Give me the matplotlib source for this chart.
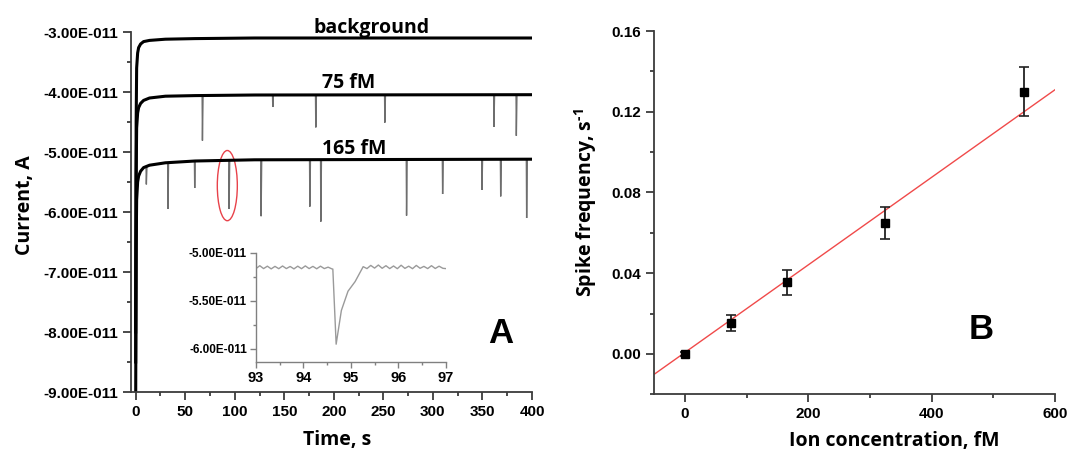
import numpy as np
import matplotlib
matplotlib.use("Agg")
import matplotlib.pyplot as plt
from matplotlib.ticker import FuncFormatter, FixedLocator
from matplotlib.patches import Ellipse

# ---------------- data (panel A) ----------------
E = 1e-11
rise_t = [0, 0.5, 1, 2, 3, 5, 8, 14, 30, 60, 120, 400]
bg_i = [-8.0, -4.5, -3.6, -3.35, -3.26, -3.2, -3.16, -3.14, -3.12, -3.11, -3.10, -3.10]
f75_i = [-8.5, -5.4, -4.6, -4.35, -4.26, -4.19, -4.14, -4.10, -4.07, -4.06, -4.05, -4.045]
f165_i = [-9.3, -6.6, -5.8, -5.5, -5.4, -5.32, -5.26, -5.22, -5.18, -5.15, -5.13, -5.12]

spk75_t = [67.4, 138.4, 181.8, 251.5, 361.6, 384.2]
spk75_i = [-4.81, -4.25, -4.59, -4.51, -4.58, -4.73]
spk165_t = [10.8, 32.6, 59.6, 94.3, 126.6, 175.8, 186.9, 273.4, 309.8, 349.5, 368.4, 394.6]
spk165_i = [-5.54, -5.95, -5.60, -5.95, -6.07, -5.91, -6.16, -6.06, -5.70, -5.63, -5.74, -6.10]

trace_labels = ["background", "75 fM", "165 fM"]

xA_major = [0, 50, 100, 150, 200, 250, 300, 350, 400]
xA_minor = [25, 75, 125, 175, 225, 275, 325, 375]
yA_major = [-9, -8, -7, -6, -5, -4, -3]
yA_minor = [-8.5, -7.5, -6.5, -5.5, -4.5, -3.5]

# inset (zoom on the spike near 94.6 s)
ins_t = [93.00, 93.08, 93.16, 93.24, 93.32, 93.40, 93.48, 93.56, 93.64, 93.72,
         93.80, 93.88, 93.96, 94.04, 94.12, 94.20, 94.28, 94.36, 94.44, 94.52,
         94.60, 94.62, 94.69, 94.80, 94.94, 95.09, 95.26, 95.34, 95.42, 95.50,
         95.58, 95.66, 95.74, 95.82, 95.90, 95.98, 96.06, 96.14, 96.22, 96.30,
         96.38, 96.46, 96.54, 96.62, 96.70, 96.78, 96.86, 96.94, 97.00]
ins_i = [-5.165, -5.135, -5.165, -5.140, -5.168, -5.142, -5.166, -5.138, -5.165, -5.143,
         -5.168, -5.140, -5.166, -5.137, -5.165, -5.142, -5.167, -5.140, -5.165, -5.150,
         -5.168, -5.170, -5.950, -5.600, -5.400, -5.300, -5.145, -5.165, -5.132, -5.160,
         -5.128, -5.162, -5.135, -5.165, -5.138, -5.166, -5.130, -5.163, -5.140, -5.166,
         -5.132, -5.162, -5.142, -5.165, -5.135, -5.164, -5.140, -5.162, -5.165]
xI_major = [93, 94, 95, 96, 97]
xI_minor = [93.5, 94.5, 95.5, 96.5]
yI_major = [-6.0, -5.5, -5.0]
yI_minor = [-5.75, -5.25]

# ---------------- data (panel B) ----------------
conc = [0, 75, 165, 325, 550]
freq = [0.000, 0.0153, 0.0354, 0.065, 0.130]
freq_err = [0.001, 0.0041, 0.006, 0.0079, 0.012]
fit_slope = 2.17e-4
fit_intercept = 0.0007
fit_x = [-50, 600]
xB_major = [0, 200, 400, 600]
xB_minor = [100, 300, 500]
yB_major = [0.00, 0.04, 0.08, 0.12, 0.16]
yB_minor = [-0.02, 0.02, 0.06, 0.10, 0.14]

# ---------------- styling ----------------
TICKFONT = "Liberation Sans"
LABELFONT = "Open Sans"
SPINE = "#3c3c3c"
plt.rcParams["mathtext.fontset"] = "custom"
plt.rcParams["mathtext.rm"] = "Open Sans:bold"
plt.rcParams["mathtext.bf"] = "Open Sans:bold"

fig = plt.figure(figsize=(10.69, 4.55), dpi=100)

def style_axes(ax, lw=1.3, color=SPINE, major=5.5, minor=3.0, pad=4.0):
    for s in ("top", "right"):
        ax.spines[s].set_visible(False)
    for s in ("left", "bottom"):
        ax.spines[s].set_linewidth(lw)
        ax.spines[s].set_color(color)
    ax.tick_params(which="both", direction="out", color=color, width=lw)
    ax.tick_params(which="major", length=major, pad=pad)
    ax.tick_params(which="minor", length=minor)

def build_trace(t, i, st, si):
    tt = list(t)
    ii = list(i)
    for ts, d in zip(st, si):
        b = float(np.interp(ts, t, i))
        tt += [ts - 0.3, ts, ts + 0.6]
        ii += [b, d, b]
    order = np.argsort(tt, kind="stable")
    return np.array(tt)[order], np.array(ii)[order]

def sci_fmt(v, pos):
    m, e = f"{v:.2E}".split("E")
    return f"{m}E{int(e):+04d}"

def bold_ticks(ax, size, xsize=None):
    for lab in ax.get_yticklabels():
        lab.set_fontfamily(TICKFONT)
        lab.set_fontweight("bold")
        lab.set_fontsize(size)
    for lab in ax.get_xticklabels():
        lab.set_fontfamily(TICKFONT)
        lab.set_fontweight("bold")
        lab.set_fontsize(xsize or size)

# ---------------- panel A ----------------
axA = fig.add_axes([131 / 1069, 1 - 392 / 455, 401 / 1069, 360 / 455])
style_axes(axA)
axA.set_xlim(-4.7, 400)
axA.set_ylim(-9 * E, -3 * E)

series = [(bg_i, [], []), (f75_i, spk75_t, spk75_i), (f165_i, spk165_t, spk165_i)]
for base, st, si in series:
    tt, ii = build_trace(rise_t, base, st, si)
    axA.plot(tt, np.array(ii) * E, color="#6e6e6e", lw=1.0, solid_joinstyle="miter")
    axA.plot(rise_t, np.array(base) * E, color="black", lw=2.2)

axA.xaxis.set_major_locator(FixedLocator(xA_major))
axA.xaxis.set_minor_locator(FixedLocator(xA_minor))
axA.yaxis.set_major_locator(FixedLocator([v * E for v in yA_major]))
axA.yaxis.set_minor_locator(FixedLocator([v * E for v in yA_minor]))
axA.yaxis.set_major_formatter(FuncFormatter(sci_fmt))
bold_ticks(axA, 11)

axA.set_xlabel("Time, s", fontfamily=LABELFONT, fontweight="bold", fontsize=14)
axA.xaxis.set_label_coords(0.515, (392 - 430) / 360)
axA.set_ylabel("Current, A", fontfamily=LABELFONT, fontweight="bold", fontsize=14)
axA.yaxis.set_label_coords((35 - 131) / 401, (392 - 205) / 360)

label_pos = [(238, -3.01), (215, -3.93), (221, -5.03)]
for txt, (x, y) in zip(trace_labels, label_pos):
    axA.text(x, y * E, txt, ha="center", va="baseline", fontfamily=LABELFONT,
             fontweight="bold", fontsize=14, clip_on=False)

axA.add_patch(Ellipse((92.5, -5.56 * E), 20.2, 1.17 * E, fill=False,
                      edgecolor="#e8424a", lw=1.0))
axA.text(368, -8.02 * E, "A", ha="center", va="center", fontfamily=TICKFONT,
         fontweight="bold", fontsize=25)

# inset
axI = fig.add_axes([256 / 1069, 1 - 362 / 455, 189.7 / 1069, (362 - 252.7) / 455])
style_axes(axI, lw=1.0, color="#808080", major=4, minor=2.2, pad=2.5)
axI.patch.set_alpha(0)
axI.plot(ins_t, np.array(ins_i) * E, color="#9a9a9a", lw=1.0)
axI.set_xlim(93, 97)
axI.set_ylim(-6.135 * E, -5.0 * E)
axI.xaxis.set_major_locator(FixedLocator(xI_major))
axI.xaxis.set_minor_locator(FixedLocator(xI_minor))
axI.yaxis.set_major_locator(FixedLocator([v * E for v in yI_major]))
axI.yaxis.set_minor_locator(FixedLocator([v * E for v in yI_minor]))
axI.yaxis.set_major_formatter(FuncFormatter(sci_fmt))
bold_ticks(axI, 8.5, 10.5)

# ---------------- panel B ----------------
axB = fig.add_axes([654 / 1069, 1 - 394.3 / 455, 401 / 1069, 363.3 / 455])
style_axes(axB)
axB.set_xlim(-50, 600)
axB.set_ylim(-0.02, 0.16)
fx = np.array(fit_x, dtype=float)
axB.plot(fx, fit_slope * fx + fit_intercept, color="#f04a4a", lw=1.0, zorder=2)
axB.errorbar(conc, freq, yerr=freq_err, fmt="s", color="black", ms=5.5,
             ecolor="#222222", elinewidth=1.3, capsize=3.5, capthick=1.2, zorder=3)
axB.xaxis.set_major_locator(FixedLocator(xB_major))
axB.xaxis.set_minor_locator(FixedLocator(xB_minor))
axB.yaxis.set_major_locator(FixedLocator(yB_major))
axB.yaxis.set_minor_locator(FixedLocator(yB_minor))
axB.yaxis.set_major_formatter(FuncFormatter(lambda v, p: f"{v:.2f}"))
bold_ticks(axB, 11)

axB.set_xlabel("Ion concentration, fM", fontfamily=LABELFONT, fontweight="bold", fontsize=14)
axB.xaxis.set_label_coords(0.6, (394.3 - 431) / 363.3)
axB.set_ylabel("Spike frequency, s$^{\\text{-1}}$", fontfamily=LABELFONT,
               fontweight="bold", fontsize=14)
axB.yaxis.set_label_coords((599 - 654) / 401, (394.3 - 203) / 363.3)
axB.text(480, 0.0119, "B", ha="center", va="center", fontfamily=TICKFONT,
         fontweight="bold", fontsize=25)

fig.savefig("out.png", dpi=100)
